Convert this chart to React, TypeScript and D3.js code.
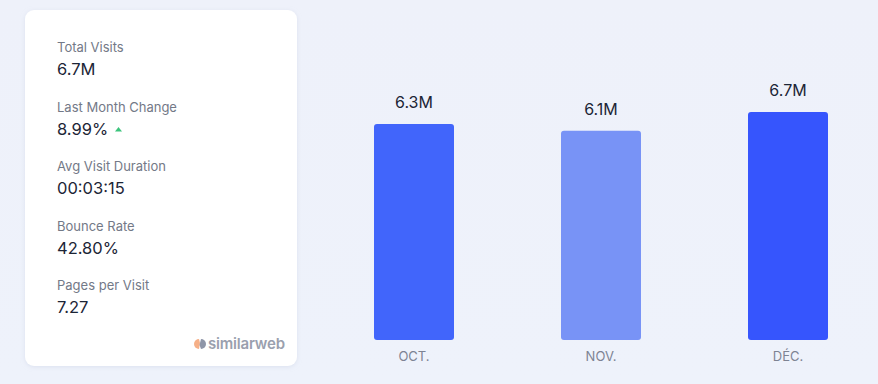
import React from "react";
import * as d3 from "d3";

const months = ["OCT.", "NOV.", "DÉC."];
const visits = [6.34, 6.14, 6.69];
const valueLabels = ["6.3M", "6.1M", "6.7M"];
const barColors = ["#4165fb", "#7893f6", "#3655fd"];

const statLabels = ["Total Visits", "Last Month Change", "Avg Visit Duration", "Bounce Rate", "Pages per Visit"];
const statValues = ["6.7M", "8.99%", "00:03:15", "42.80%", "7.27"];

const W = 878;
const H = 384;
const FONT = "Inter, 'Open Sans', sans-serif";

export default function App() {
  const x = d3.scalePoint<string>().domain(months).range([414, 788]);
  const y = d3.scaleLinear().domain([0, 6.69]).range([340, 112]);
  const bw = 80;

  return (
    <svg width={W} height={H} style={{ position: "fixed", left: 0, top: 0 }} fontFamily={FONT}>
      <defs>
        <linearGradient id="bg" x1="0" y1="0" x2="0" y2="1">
          <stop offset="0" stopColor="#eef1fa" />
          <stop offset="1" stopColor="#eef2fb" />
        </linearGradient>
        <filter id="sh" x="-10%" y="-10%" width="120%" height="120%">
          <feDropShadow dx="0" dy="1" stdDeviation="2" floodColor="#c9d0e3" floodOpacity="0.5" />
        </filter>
      </defs>
      <rect width={W} height={H} fill="url(#bg)" />
      <rect x={25} y={10} width={272} height={356} rx={9} fill="#ffffff" filter="url(#sh)" />
      {statLabels.map((l, i) => (
        <g key={l}>
          <text x={57} y={52 + i * 59.5} fontSize={13} fill="#737987">{l}</text>
          <text x={57} y={75 + i * 59.5} fontSize={16.5} fill="#1c2536">{statValues[i]}</text>
        </g>
      ))}
      <path d="M 115 131.5 L 122 131.5 L 118.5 127 Z" fill="#3cc47c" />
      <g transform="translate(194,344)">
        <path d="M 5 -5 A 5 5 0 0 0 5 5 L 6 -1 Z" fill="#f6b088" />
        <path d="M 7 -5 A 5 5 0 0 1 7 5 L 5.5 1 Z" fill="#8f96a8" />
      </g>
      <text x={208} y={349} fontSize={15} fontWeight={600} fill="#9aa0ae" letterSpacing={-0.2}>similarweb</text>
      {months.map((m, i) => {
        const cx = x(m)!;
        return (
          <g key={m}>
            <rect x={cx - bw / 2} y={y(visits[i])} width={bw} height={340 - y(visits[i])} rx={3} fill={barColors[i]} />
            <text x={cx} y={y(visits[i]) - 16} textAnchor="middle" fontSize={16} fill="#1c2536">{valueLabels[i]}</text>
            <text x={cx} y={361} textAnchor="middle" fontSize={13} fill="#7d8393">{m}</text>
          </g>
        );
      })}
    </svg>
  );
}
